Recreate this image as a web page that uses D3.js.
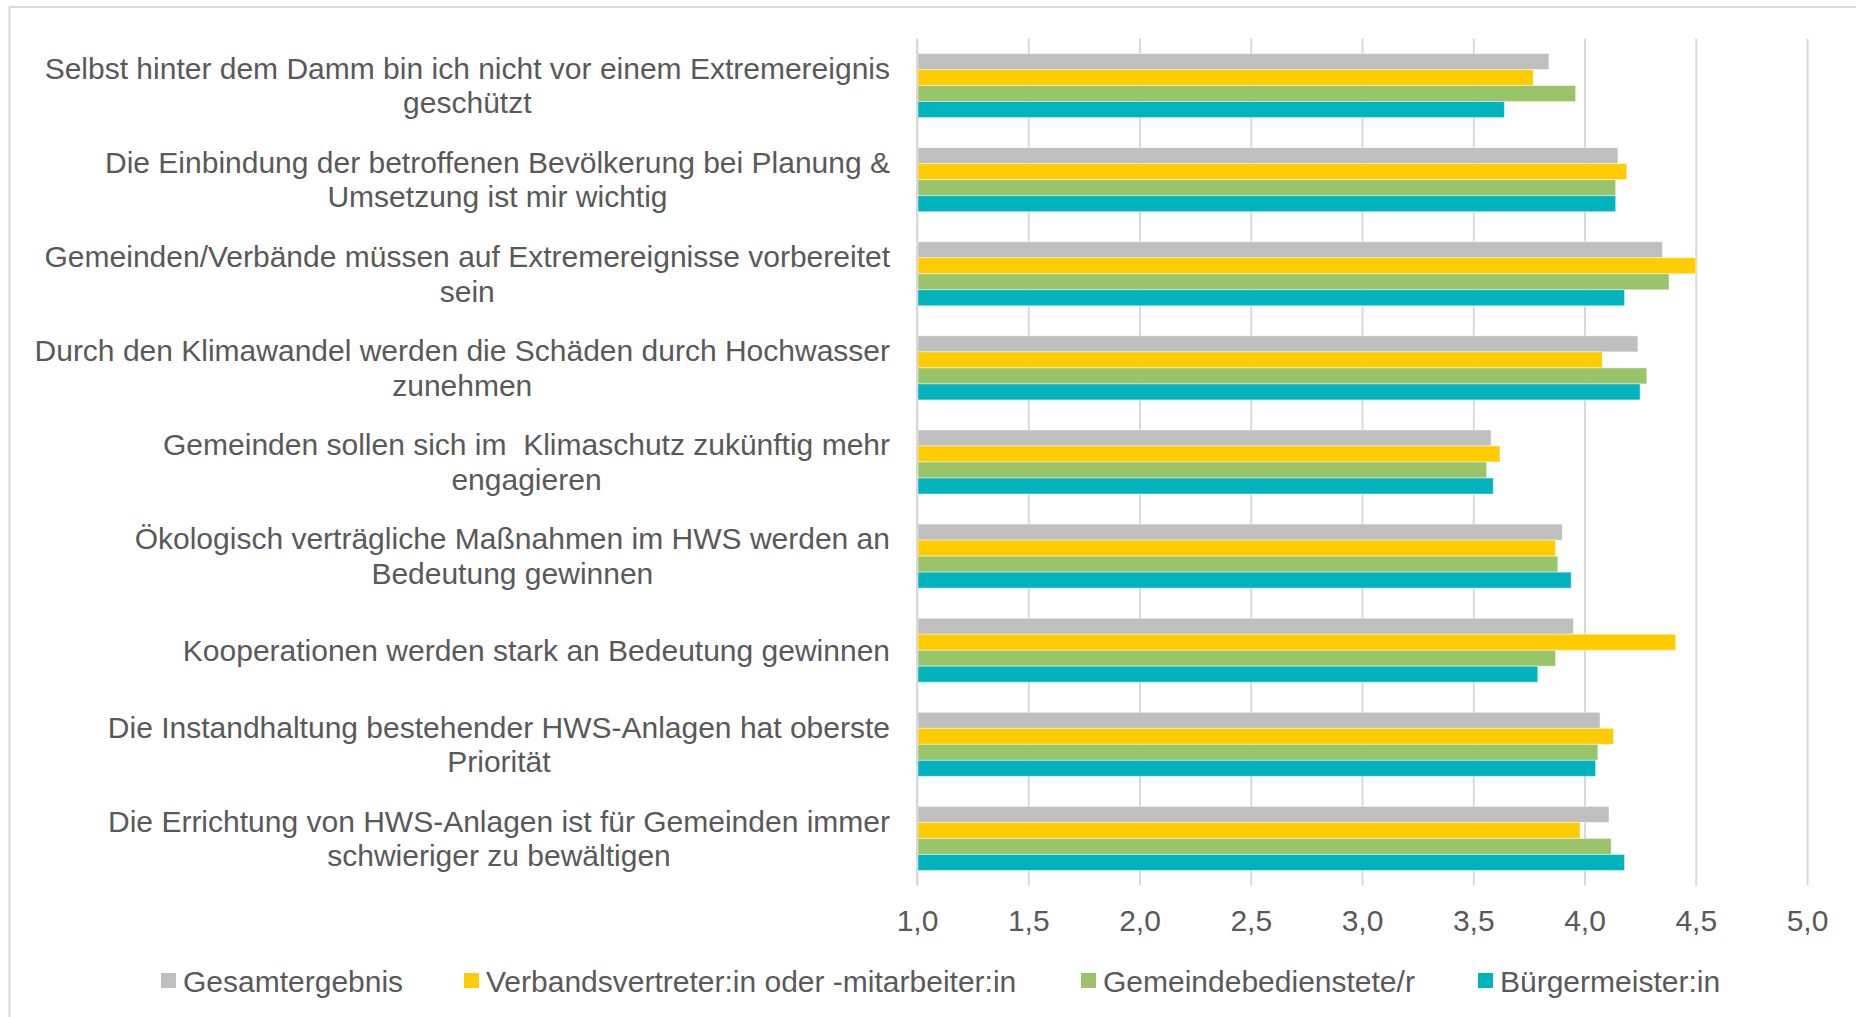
<!DOCTYPE html>
<html>
<head>
<meta charset="utf-8">
<script src="https://cdn.jsdelivr.net/npm/d3@7"></script>
<style>
  html, body { margin: 0; padding: 0; background: #fff; }
  svg { display: block; }
</style>
</head>
<body>
<div id="canvas"></div>
<script>
const categories = [
    'Selbst hinter dem Damm bin ich nicht vor einem Extremereignis\ngeschützt',
    'Die Einbindung der betroffenen Bevölkerung bei Planung &\nUmsetzung ist mir wichtig',
    'Gemeinden/Verbände müssen auf Extremereignisse vorbereitet\nsein',
    'Durch den Klimawandel werden die Schäden durch Hochwasser\nzunehmen',
    'Gemeinden sollen sich im  Klimaschutz zukünftig mehr\nengagieren',
    'Ökologisch verträgliche Maßnahmen im HWS werden an\nBedeutung gewinnen',
    'Kooperationen werden stark an Bedeutung gewinnen',
    'Die Instandhaltung bestehender HWS-Anlagen hat oberste\nPriorität',
    'Die Errichtung von HWS-Anlagen ist für Gemeinden immer\nschwieriger zu bewältigen'
];

const seriesNames = ['Gesamtergebnis', 'Verbandsvertreter:in oder -mitarbeiter:in', 'Gemeindebedienstete/r', 'Bürgermeister:in'];

const gesamt     = [3.84, 4.15, 4.35, 4.24, 3.58, 3.90, 3.95, 4.07, 4.11];
const verband    = [3.77, 4.19, 4.50, 4.08, 3.62, 3.87, 4.41, 4.13, 3.98];
const gemeinde   = [3.96, 4.14, 4.38, 4.28, 3.56, 3.88, 3.87, 4.06, 4.12];
const buergermst = [3.64, 4.14, 4.18, 4.25, 3.59, 3.94, 3.79, 4.05, 4.18];

const ticks = [1.0, 1.5, 2.0, 2.5, 3.0, 3.5, 4.0, 4.5, 5.0];

const colors = ['#bfbfbf', '#ffcc00', '#99c46a', '#00b3bd'];
const seriesValues = [gesamt, verband, gemeinde, buergermst];

const w = 1856,
    h = 1017,
    plotLeft = 917,
    plotRight = 1807,
    plotTop = 38.5,
    plotBottom = 885.5,
    textColor = '#595959',
    fontFamily = '"Liberation Sans", Arial, sans-serif',
    fontSize = 30,
    svg = d3.select('#canvas').append('svg')
        .attr('width', w)
        .attr('height', h);

// chart border
svg.append('rect')
    .attr('x', 9.5)
    .attr('y', 7)
    .attr('width', w + 20)
    .attr('height', h + 20)
    .attr('fill', '#fff')
    .attr('stroke', '#d9d9d9')
    .attr('stroke-width', 2);

const x = d3.scaleLinear().domain([1, 5]).range([plotLeft, plotRight]);
const y = d3.scaleBand().domain(d3.range(categories.length)).range([plotTop, plotBottom]);
const inner = d3.scaleBand().domain(d3.range(seriesNames.length))
    .range([0, y.bandwidth()]).paddingOuter(0.94);

// gridlines
svg.append('g')
    .attr('transform', 'translate(0,' + plotBottom + ')')
    .call(d3.axisBottom(x).tickValues(ticks).tickSize(-(plotBottom - plotTop)).tickFormat(''))
    .call(g => g.select('.domain').remove())
    .call(g => g.selectAll('line').attr('stroke', '#d9d9d9').attr('stroke-width', 2));

// bars
const groups = svg.append('g').selectAll('g')
    .data(categories)
    .join('g')
    .attr('transform', (d, i) => 'translate(0,' + y(i) + ')');

groups.selectAll('rect')
    .data((d, i) => seriesValues.map((s, k) => ({ k: k, v: s[i] })))
    .join('rect')
    .attr('x', x(1) + 1)
    .attr('y', d => inner(d.k))
    .attr('width', d => x(d.v) - x(1) - 1)
    .attr('height', inner.bandwidth())
    .attr('fill', d => colors[d.k])
    .attr('stroke', 'rgba(255,255,255,0.45)')
    .attr('stroke-width', 1);

// left axis line
svg.append('line')
    .attr('x1', x(1)).attr('x2', x(1))
    .attr('y1', plotTop).attr('y2', plotBottom)
    .attr('stroke', '#d9d9d9')
    .attr('stroke-width', 2);

// x tick labels
svg.append('g')
    .attr('transform', 'translate(0,' + (plotBottom + 45) + ')')
    .call(d3.axisBottom(x).tickValues(ticks).tickSize(0).tickPadding(0)
        .tickFormat(d => d3.format('.1f')(d).replace('.', ',')))
    .call(g => g.select('.domain').remove())
    .call(g => g.selectAll('text')
        .attr('fill', textColor)
        .attr('font-family', fontFamily)
        .attr('font-size', fontSize + 'px')
        .attr('dy', 0));

// category labels
const labelRight = 890,
    lineH = 34.5;

categories.forEach((c, i) => {
    const lines = c.split('\n');
    const cy = y(i) + y.bandwidth() / 2;
    const t = svg.append('text')
        .attr('fill', textColor)
        .attr('font-family', fontFamily)
        .attr('font-size', fontSize + 'px')
        .attr('text-anchor', 'middle')
        .style('white-space', 'pre');
    lines.forEach((ln, j) => {
        t.append('tspan')
            .attr('x', 0)
            .attr('y', cy + (j - (lines.length - 1) / 2) * lineH + fontSize * 0.35)
            .text(ln);
    });
    let maxW = 0;
    t.selectAll('tspan').each(function () {
        maxW = Math.max(maxW, this.getComputedTextLength());
    });
    t.selectAll('tspan').attr('x', labelRight - maxW / 2);
});

// legend
const legendX = [161, 464, 1081, 1478],
    legendY = 981;

const legend = svg.append('g').selectAll('g')
    .data(seriesNames)
    .join('g')
    .attr('transform', (d, i) => 'translate(' + legendX[i] + ',' + legendY + ')');

legend.append('rect')
    .attr('x', 0)
    .attr('y', -8)
    .attr('width', 15)
    .attr('height', 15)
    .attr('fill', (d, i) => colors[i]);

legend.append('text')
    .attr('x', 22)
    .attr('y', fontSize * 0.35)
    .attr('fill', textColor)
    .attr('font-family', fontFamily)
    .attr('font-size', fontSize + 'px')
    .text(d => d);
</script>
</body>
</html>
